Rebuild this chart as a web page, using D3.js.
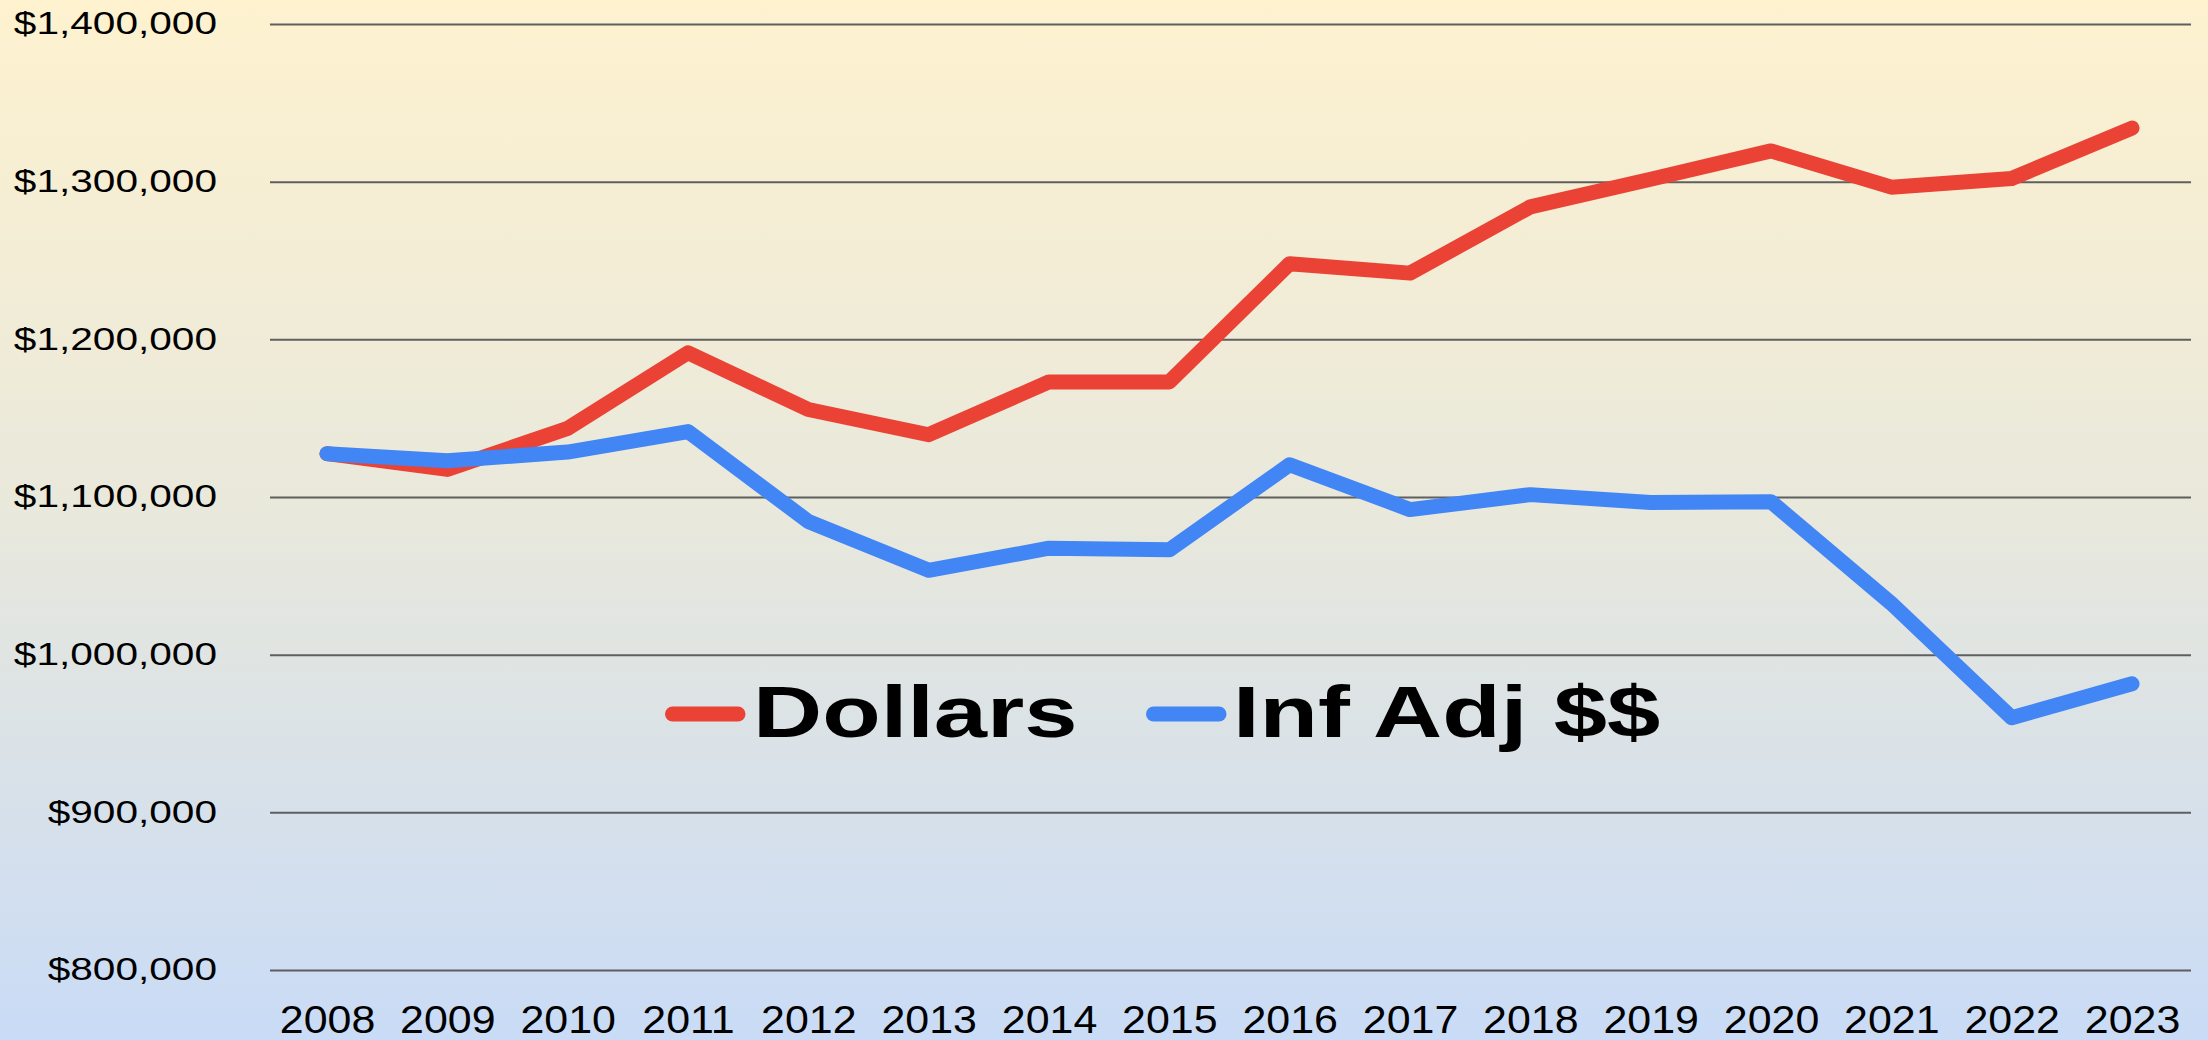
<!DOCTYPE html>
<html>
<head>
<meta charset="utf-8">
<script src="https://cdn.jsdelivr.net/npm/d3@7"></script>
<style>
    body { margin: 0; }
    svg { display: block; }
</style>
</head>
<body>
<div id="chart"></div>
<script>
// Data
const years = ['2008', '2009', '2010', '2011', '2012', '2013', '2014', '2015',
               '2016', '2017', '2018', '2019', '2020', '2021', '2022', '2023']
const dollars = [1127500, 1117500, 1143500, 1191500, 1155500, 1139500, 1173000, 1173000,
                 1248000, 1242000, 1284000, 1301500, 1319500, 1296500, 1302000, 1334000]
const infAdj = [1127500, 1123000, 1128500, 1141500, 1084500, 1053500, 1067500, 1066500,
                1120500, 1092000, 1101500, 1096500, 1097000, 1032500, 960000, 981500]
const yTicks = [800000, 900000, 1000000, 1100000, 1200000, 1300000, 1400000]
const seriesNames = ['Dollars', 'Inf Adj $$']
const seriesColors = ['#ea4335', '#4285f4']

const width = 2208
const height = 1040
const gridLeft = 270
const gridRight = 2191

let svg = d3.select('#chart')
            .append('svg')
            .attr('width', width)
            .attr('height', height)

// Background gradient
let grad = svg.append('defs').append('linearGradient')
    .attr('id', 'bg')
    .attr('x1', 0).attr('y1', 0).attr('x2', 0).attr('y2', 1)
grad.append('stop').attr('offset', '0%').attr('stop-color', '#fef2cf')
grad.append('stop').attr('offset', '50%').attr('stop-color', '#e8e8dc')
grad.append('stop').attr('offset', '100%').attr('stop-color', '#c9dbf6')

svg.append('rect')
    .attr('width', width)
    .attr('height', height)
    .attr('fill', 'url(#bg)')

// Scales
let xScale = d3.scalePoint()
    .domain(years)
    .range([327, 2132])

let yScale = d3.scaleLinear()
    .domain([800000, 1400000])
    .range([970, 24])

// Y axis with gridlines
let yAxis = d3.axisLeft(yScale)
    .tickValues(yTicks)
    .tickSize(-(gridRight - gridLeft))
    .tickPadding(53)
    .tickFormat((d) => '$' + d3.format(',')(d))

let yG = svg.append('g')
    .attr('class', 'y-axis')
    .attr('transform', 'translate(' + gridLeft + ',0)')
    .call(yAxis)

yG.select('.domain').remove()
yG.selectAll('line')
    .attr('stroke', '#5f5f5f')
    .attr('stroke-width', 2)
yG.selectAll('text')
    .attr('x', -53 / 1.31)
    .attr('transform', 'scale(1.31,1)') // labels in the picture are stretched wide
    .attr('fill', '#000')
    .attr('font-family', 'Liberation Sans, Arial, sans-serif')
    .attr('font-size', '31px')

// X axis
let xAxis = d3.axisBottom(xScale)
    .tickSize(0)
    .tickPadding(36)

let xG = svg.append('g')
    .attr('class', 'x-axis')
    .attr('transform', 'translate(0,970)')
    .call(xAxis)

xG.select('.domain').remove()
xG.selectAll('text')
    .attr('transform', 'scale(1.13,1)')
    .attr('fill', '#000')
    .attr('font-family', 'Liberation Sans, Arial, sans-serif')
    .attr('font-size', '38px')

// Lines
let line = d3.line()
    .x((d, i) => xScale(years[i]))
    .y((d) => yScale(d))

let series = [dollars, infAdj]
svg.append('g').selectAll('path')
    .data(series)
    .enter()
    .append('path')
    .attr('d', (d) => line(d))
    .attr('fill', 'none')
    .attr('stroke', (d, i) => seriesColors[i])
    .attr('stroke-width', 15)
    .attr('stroke-linecap', 'round')
    .attr('stroke-linejoin', 'round')

// Legend
const legendX = [665, 1146]
const legendTextX = [753, 1233]
let legend = svg.append('g').attr('class', 'legend')

legend.selectAll('line')
    .data(seriesNames)
    .enter()
    .append('line')
    .attr('x1', (d, i) => legendX[i] + 7.5)
    .attr('x2', (d, i) => legendX[i] + 73)
    .attr('y1', 714)
    .attr('y2', 714)
    .attr('stroke', (d, i) => seriesColors[i])
    .attr('stroke-width', 15)
    .attr('stroke-linecap', 'round')

legend.selectAll('g.item')
    .data(seriesNames)
    .enter()
    .append('g')
    .attr('class', 'item')
    .attr('transform', (d, i) => 'translate(' + legendTextX[i] + ',737) scale(1.33,1)')
    .append('text')
    .text((d) => d)
    .attr('font-family', 'Liberation Sans, Arial, sans-serif')
    .attr('font-weight', 'bold')
    .attr('font-size', '72px')
    .attr('fill', '#000')
</script>
</body>
</html>
